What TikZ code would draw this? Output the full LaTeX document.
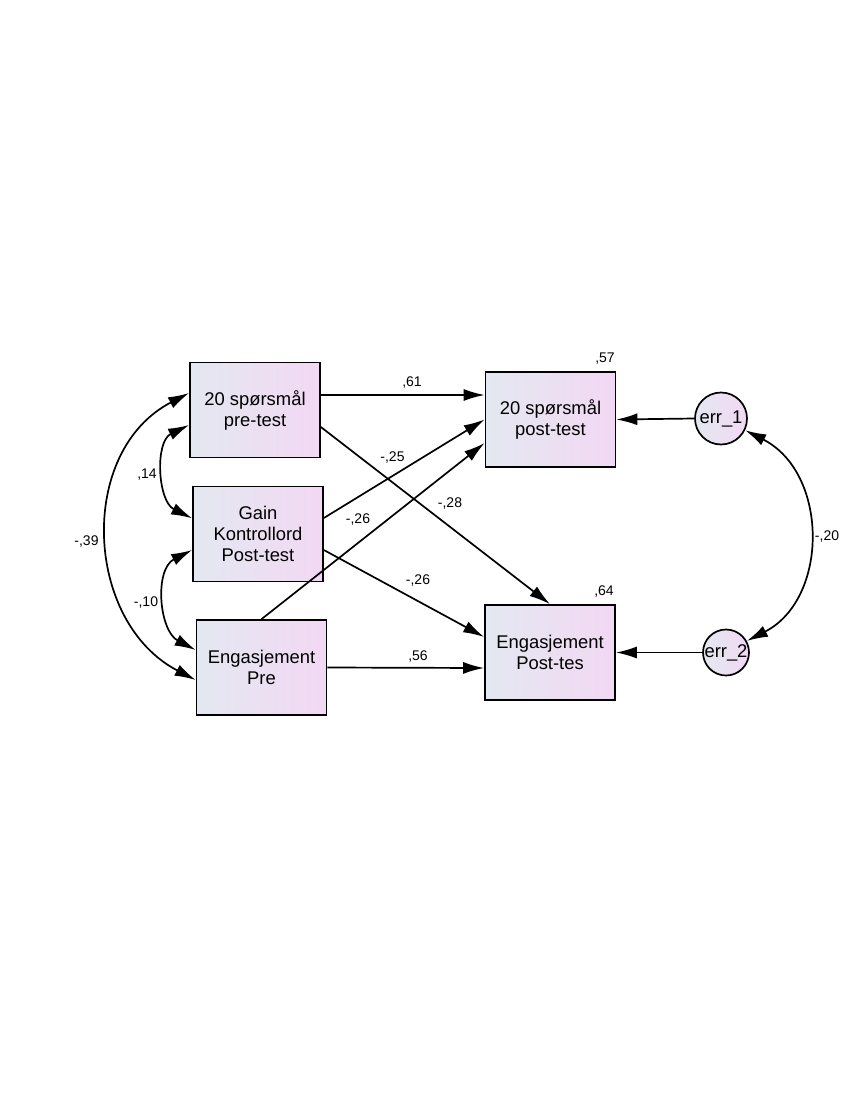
\documentclass[tikz,border=0pt]{standalone}
\usepackage{fontspec}
\setmainfont{Liberation Sans}
\usetikzlibrary{arrows.meta,calc}
\definecolor{boxL}{RGB}{228,232,240}
\definecolor{boxR}{RGB}{242,216,244}
\tikzset{
  var/.style={draw=black, line width=1.7pt, left color=boxL, right color=boxR,
    minimum width=130pt, minimum height=95pt, inner sep=0pt, align=center,
    font=\fontsize{18.4}{21}\selectfont},
  errc/.style={draw=black, line width=1.7pt, circle, left color=boxL, right color=boxR,
    inner sep=0pt, font=\fontsize{18.4}{21}\selectfont},
  path/.style={line width=1.7pt, -{Latex[length=21pt,width=12pt]}},
  cov/.style={line width=1.7pt, {Latex[length=21pt,width=12pt]}-{Latex[length=21pt,width=12pt]}},
  lbl/.style={font=\fontsize{14}{16}\selectfont, inner sep=0pt}
}
\begin{document}
\begin{tikzpicture}[x=1pt,y=-1pt]
\fill[white] (0,0) rectangle (850,1100);
\useasboundingbox (0,0) rectangle (850,1100);

\node[var] (A) at (255,410) {20 spørsmål\\pre-test};
\node[var] (B) at (258,534) {Gain\\Kontrollord\\Post-test};
\node[var] (C) at (261.5,667.5) {Engasjement\\Pre};
\node[var] (D) at (550.5,419.5) {20 spørsmål\\post-test};
\node[var] (E) at (550,652.5) {Engasjement\\Post-tes};
\node[errc, minimum size=52pt] (e1) at (721,418.5) {err\_1};
\node[errc, minimum size=42pt] (e2) at (726,652.5) {err\_2};

% regression paths
\draw[path] ($(A.east)+(0,-15)$) -- ($(D.west)+(0,-24.5)$);
\draw[path] ($(A.east)+(0,17)$) -- (E.north);
\draw[path] ($(B.east)+(0,-16)$) -- (D.west);
\draw[path] ($(B.east)+(0,16)$) -- ($(E.west)+(0,-15.5)$);
\draw[path] (C.north) -- ($(D.west)+(0,23.5)$);
\draw[path] (C.east) -- ($(E.west)+(0,15.5)$);
\draw[path] (e1.west) -- (D.east);
\draw[path] (e2.west) -- (E.east);

% covariances
\draw[cov] ($(A.west)+(0,-17)$) .. controls (77,451) and (84,622) .. ($(C.west)+(0,12.5)$);
\draw[cov] ($(A.west)+(0,15)$) .. controls (154.6,441.7) and (157.6,501.3) .. ($(B.west)+(0,-15.7)$);
\draw[cov] ($(B.west)+(0,16)$) .. controls (154,569.3) and (159,630.7) .. ($(C.west)+(0,-17.5)$);
\draw[cov] (e1.-26) .. controls (829,473) and (829,599) .. (e2.29);

% labels
\node[lbl] (l61) at (412,382.5) {,61};
\node[lbl] (l25) at (392.5,458) {-,25};
\node[lbl] (l28) at (450,504) {-,28};
\node[lbl] (l26a) at (358,520) {-,26};
\node[lbl] (l26b) at (418,580.5) {-,26};
\node[lbl] (l56) at (418,656.5) {,56};
\node[lbl] (l57) at (605,359) {,57};
\node[lbl] (l64) at (604,592) {,64};
\node[lbl] (l20) at (827,537) {-,20};
\node[lbl] (l14) at (147,475) {,14};
\node[lbl] (l10) at (146,603) {-,10};
\node[lbl] (l39) at (86.5,541.5) {-,39};
\end{tikzpicture}
\end{document}
